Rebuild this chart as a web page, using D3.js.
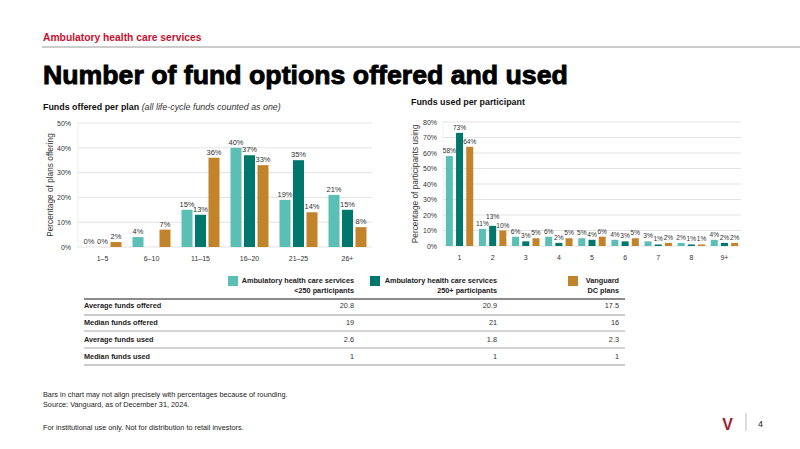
<!DOCTYPE html>
<html lang="en">
<head>
<meta charset="UTF-8">
<title>Number of fund options offered and used</title>
<script src="https://d3js.org/d3.v7.min.js"></script>
<style>
  body { margin: 0; background: #fff; }
  svg { display: block; font-family: "Liberation Sans", Arial, sans-serif; }
  .grid line { stroke: #e3e3e3; }
  .tick-lbl { font-size: 7px; fill: #333; }
  .bar-lbl { fill: #333; }
</style>
</head>
<body>
<div id="chart"></div>
<script>
// series
const seriesNames = ["Ambulatory health care services", "Ambulatory health care services", "Vanguard"];
const seriesSub = ["<250 participants", "250+ participants", "DC plans"];
const colors = ["#5bbfb6", "#00776d", "#c2842b"];

// left chart: funds offered per plan
const offeredCats = ["1–5", "6–10", "11–15", "16–20", "21–25", "26+"];
const offeredSmall = [0, 4, 15, 40, 19, 21];
const offeredLarge = [0, null, 13, 37, 35, 15];
const offeredVanguard = [2, 7, 36, 33, 14, 8];
const offeredTicks = [0, 10, 20, 30, 40, 50];

// right chart: funds used per participant
const usedCats = ["1", "2", "3", "4", "5", "6", "7", "8", "9+"];
const usedSmall = [58, 11, 6, 6, 5, 4, 3, 2, 4];
const usedLarge = [73, 13, 3, 2, 4, 3, 1, 1, 2];
const usedVanguard = [64, 10, 5, 5, 6, 5, 2, 1, 2];
const usedTicks = [0, 10, 20, 30, 40, 50, 60, 70, 80];

// table
const rowLabels = ["Average funds offered", "Median funds offered", "Average funds used", "Median funds used"];
const tableSmall = ["20.8", "19", "2.6", "1"];
const tableLarge = ["20.9", "21", "1.8", "1"];
const tableVanguard = ["17.5", "16", "2.3", "1"];

const W = 800, H = 449;
const svg = d3.select("#chart").append("svg").attr("width", W).attr("height", H);

// header
svg.append("text").attr("x", 43).attr("y", 41)
  .style("font-size", "10.3px").style("font-weight", "bold").attr("fill", "#c8102e")
  .text("Ambulatory health care services");
svg.append("line").attr("x1", 42).attr("x2", 800).attr("y1", 47).attr("y2", 47)
  .attr("stroke", "#bbb").attr("stroke-width", 1.5);

const title = svg.append("text").attr("x", 43).attr("y", 84)
  .style("font-size", "29px").style("font-weight", "bold")
  .attr("fill", "#000").attr("stroke", "#000").attr("stroke-width", 0.9)
  .text("Number of fund options offered and used");
const tw = title.node().getComputedTextLength();
title.style("font-size", (29 * 525 / tw) + "px");

// subtitles
const sub1 = svg.append("text").attr("x", 43).attr("y", 110).style("font-size", "8.9px");
sub1.append("tspan").style("font-weight", "bold").attr("fill", "#111").text("Funds offered per plan ");
sub1.append("tspan").style("font-style", "italic").attr("fill", "#333").text("(all life-cycle funds counted as one)");
svg.append("text").attr("x", 411).attr("y", 105).style("font-size", "8.9px")
  .style("font-weight", "bold").attr("fill", "#111").text("Funds used per participant");

function drawChart(opt) {
  const g = svg.append("g");
  const x = d3.scaleBand().domain(opt.cats).range([opt.x0, opt.x1]);
  const y = d3.scaleLinear().domain([0, d3.max(opt.ticks)]).range([opt.y0, opt.y1]);

  // gridlines
  g.append("g").attr("class", "grid").selectAll("line").data(opt.ticks).join("line")
    .attr("x1", opt.x0).attr("x2", opt.x1)
    .attr("y1", d => y(d)).attr("y2", d => y(d));
  g.append("line").attr("x1", opt.x0).attr("x2", opt.x0)
    .attr("y1", y(0)).attr("y2", y(d3.max(opt.ticks))).attr("stroke", "#eee");

  // y axis
  const ya = g.append("g").attr("transform", `translate(${opt.x0 - opt.tickGap + 3},0)`)
    .call(d3.axisLeft(y).tickValues(opt.ticks).tickSize(0).tickFormat(d => d + "%"));
  ya.select(".domain").remove();
  ya.selectAll("text").attr("class", "tick-lbl").attr("fill", "#333")
    .style("font-family", "Liberation Sans, Arial, sans-serif");

  // x axis
  const xa = g.append("g").attr("transform", `translate(0,${opt.y0 + 6})`)
    .call(d3.axisBottom(x).tickSize(0));
  xa.select(".domain").remove();
  xa.selectAll("text").attr("class", "tick-lbl").attr("fill", "#333")
    .style("font-family", "Liberation Sans, Arial, sans-serif");

  // axis title
  g.append("text")
    .attr("transform", `translate(${opt.titleX},${(opt.y0 + y(d3.max(opt.ticks))) / 2}) rotate(-90)`)
    .attr("text-anchor", "middle").style("font-size", "8.3px").attr("fill", "#333")
    .text(opt.yTitle);

  // bars
  const step = opt.barW + opt.gap;
  const placed = [];
  opt.cats.forEach((c, i) => {
    const cx = x(c) + x.bandwidth() / 2;
    opt.series.forEach((s, j) => {
      const v = s[i];
      if (v == null) return;
      const bx = cx + (j - 1) * step - opt.barW / 2;
      g.append("rect").attr("x", bx).attr("width", opt.barW)
        .attr("y", y(v)).attr("height", opt.y0 - y(v)).attr("fill", colors[j]);
      const t = g.append("text").attr("class", "bar-lbl").attr("text-anchor", "middle")
        .attr("x", bx + opt.barW / 2).style("font-size", opt.fs + "px").text(v + "%");
      const w = t.node().getComputedTextLength();
      let ly = y(v) - 3;
      // nudge a label up when it sits on top of a neighbouring one
      let moved = true;
      while (moved) {
        moved = false;
        for (const p of placed) {
          const ox = (w + p.w) / 2 - Math.abs(p.x - (bx + opt.barW / 2));
          if (ox > 2 && Math.abs(p.y - ly) < opt.fs * 0.72) {
            ly = p.y - opt.fs - 0.5;
            moved = true;
          }
        }
      }
      t.attr("y", ly);
      placed.push({ x: bx + opt.barW / 2, y: ly, w: w });
    });
  });
}

drawChart({
  cats: offeredCats, series: [offeredSmall, offeredLarge, offeredVanguard],
  ticks: offeredTicks, x0: 78, x1: 372, y0: 247, y1: 123, tickGap: 7,
  barW: 11, gap: 2.5, fs: 7.5, titleX: 53, yTitle: "Percentage of plans offering"
});
drawChart({
  cats: usedCats, series: [usedSmall, usedLarge, usedVanguard],
  ticks: usedTicks, x0: 443, x1: 741, y0: 246, y1: 122, tickGap: 6,
  barW: 7, gap: 3.2, fs: 6.6, titleX: 417.5, yTitle: "Percentage of participants using"
});

// legend
const legX = [354, 497, 619];
const sqX = [228, 370, 568];
seriesNames.forEach((n, j) => {
  svg.append("rect").attr("x", sqX[j]).attr("y", 276).attr("width", 10).attr("height", 10)
    .attr("fill", colors[j]);
  svg.append("text").attr("x", legX[j]).attr("y", 283).attr("text-anchor", "end")
    .style("font-size", "7.3px").style("font-weight", "bold").attr("fill", "#222").text(n);
  svg.append("text").attr("x", legX[j]).attr("y", 293).attr("text-anchor", "end")
    .style("font-size", "7.3px").style("font-weight", "bold").attr("fill", "#222").text(seriesSub[j]);
});

// table
const tx0 = 84, tx1 = 625;
const rowY = [308, 325, 342, 359];
const lineY = [299, 315, 331, 348, 365];
const lineStyle = [["#666", 1.5], ["#ccc", 2], ["#aaa", 1], ["#aaa", 1], ["#ccc", 2]];
lineY.forEach((ly, k) => {
  svg.append("line").attr("x1", tx0).attr("x2", tx1).attr("y1", ly).attr("y2", ly)
    .attr("stroke", lineStyle[k][0]).attr("stroke-width", lineStyle[k][1]);
});
const cols = [tableSmall, tableLarge, tableVanguard];
rowLabels.forEach((r, i) => {
  svg.append("text").attr("x", tx0).attr("y", rowY[i]).style("font-size", "7.3px")
    .style("font-weight", "bold").attr("fill", "#222").text(r);
  cols.forEach((c, j) => {
    svg.append("text").attr("x", legX[j]).attr("y", rowY[i]).attr("text-anchor", "end")
      .style("font-size", "7.3px").attr("fill", "#333").text(c[i]);
  });
});

// footer
const notes = [
  ["Bars in chart may not align precisely with percentages because of rounding.", 397],
  ["Source: Vanguard, as of December 31, 2024.", 407],
  ["For institutional use only. Not for distribution to retail investors.", 430]
];
notes.forEach(n => {
  svg.append("text").attr("x", 43).attr("y", n[1]).style("font-size", "7.3px")
    .attr("fill", "#222").text(n[0]);
});

// logo + page number
svg.append("text").attr("x", 727.5).attr("y", 430).attr("text-anchor", "middle")
  .style("font-size", "16px").style("font-weight", "bold").attr("fill", "#a01c30").text("V");
svg.append("line").attr("x1", 746).attr("x2", 746).attr("y1", 413).attr("y2", 431)
  .attr("stroke", "#bbb");
svg.append("text").attr("x", 758).attr("y", 427).style("font-size", "9px")
  .attr("fill", "#222").text("4");
</script>
</body>
</html>
